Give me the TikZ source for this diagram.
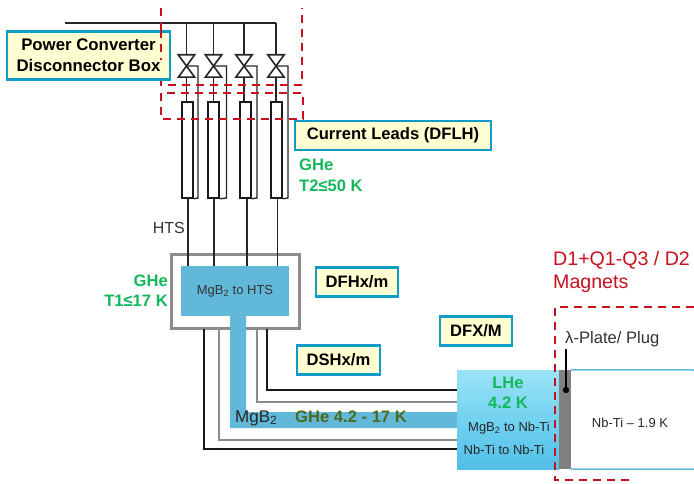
\documentclass[tikz,border=0pt]{standalone}
\usepackage{fontspec}
\setmainfont{Liberation Sans}
\definecolor{boxblue}{HTML}{0F9CC6}
\definecolor{boxfill}{HTML}{FFFFD2}
\definecolor{cablue}{HTML}{62B8D9}
\definecolor{redd}{HTML}{C8101E}
\definecolor{gre}{HTML}{12B85A}
\definecolor{olive2}{HTML}{4E6A1E}
\definecolor{gr}{HTML}{8C8C8C}
\definecolor{lhetop}{HTML}{9BE3F6}
\definecolor{lhemid}{HTML}{72D2F0}
\definecolor{lhebot}{HTML}{52BFE8}
\tikzset{
  lbl/.style={draw=boxblue,line width=2.6pt,fill=boxfill,inner sep=0pt,align=center,font=\fontsize{16.6}{20}\selectfont\bfseries},
  valve/.style={minimum width=16pt,minimum height=22pt,inner sep=0pt},
  tube/.style={draw=black!90,line width=1.6pt,fill=white,inner sep=0pt,minimum width=11pt,minimum height=96pt},
  wire/.style={draw=black!85,line width=1.4pt},
  wireb/.style={draw=black!85,line width=1.6pt},
  wirek/.style={draw=black!90,line width=1.7pt},
  wireg/.style={draw=gr,line width=2.8pt},
  reddash/.style={draw=redd,line width=2.2pt,dash pattern=on 8pt off 6pt},
  greent/.style={text=gre,font=\fontsize{16.6}{20}\selectfont\bfseries,inner sep=0pt,align=center},
  small/.style={inner sep=0pt,font=\fontsize{13}{15}\selectfont,text=black!85}
}
\begin{document}
\begin{tikzpicture}[x=1pt,y=-1pt]
\useasboundingbox (0,0) rectangle (694,484);
\coordinate (busL) at (65,23);
\coordinate (busR) at (276,23);
\node[draw=gr,line width=2.6pt,minimum width=128pt,minimum height=74pt,inner sep=0pt] (dfh) at (235.5,291.5) {};
\node[fill=cablue,minimum width=108pt,minimum height=50pt,inner sep=0pt,font=\fontsize{13}{15}\selectfont,text=black!80] (mgbhts) at (235,291) {MgB\textsubscript{2} to HTS};
\node[top color=lhetop,bottom color=lhebot,middle color=lhemid,minimum width=102pt,minimum height=99pt,inner sep=0pt] (lhe) at (508,419.5) {};
\coordinate (g1) at (204,329); \coordinate (g1e) at (lhe.west |- 0,449);
\coordinate (g2) at (219,329); \coordinate (g2e) at (lhe.west |- 0,440);
\coordinate (g3) at (257,329); \coordinate (g3e) at (lhe.west |- 0,402);
\coordinate (g4) at (267,329); \coordinate (g4e) at (lhe.west |- 0,390);
\draw[wirek] (g1) |- (g1e);
\draw[wireg] (g2) |- (g2e);
\draw[wireg] (g3) |- (g3e);
\draw[wirek] (g4) |- (g4e);
\fill[cablue] (230,316) -- (246,316) -- (246,412) -- (457,412) -- (457,428) -- (230,428) -- cycle;
\draw[wireb] (busL) -- (busR);
\foreach \n/\vx/\tx/\lx/\bx in {1/186.5/187.5/188/198,2/213.5/213.5/214/226.5,3/244/245.5/247/257,4/276/276.5/277.5/288}{
  \node[valve] (v\n) at (\vx,66) {};
  \node[tube] (t\n) at (\tx,150) {};
  \coordinate (b\n) at (\vx,23);
  \coordinate (e\n) at (\lx,266);
  \draw[wireb] (b\n) -- (v\n.north);
  \draw[wireb] (v\n.north west) -- (v\n.south east) -- (v\n.south west) -- (v\n.north east) -- cycle;
  \draw[wireb] (v\n.south) -- (v\n.south |- t\n.north);
  \draw[wire] (v\n.center) -| (\bx,198) -- (t\n.south east);
  \draw[wireb] (\lx,198) -- (e\n);
}
\node[fill=black!50,minimum width=12pt,minimum height=99pt,inner sep=0pt] (plate) at (565,419.5) {};
\coordinate (mt) at (694,370); \coordinate (mb) at (694,469);
\draw[cablue,line width=1.5pt] (plate.north east) -- (mt);
\draw[cablue,line width=1.5pt] (plate.south east) -- (mb);
\node[small] (nbt) at (630,423) {Nb-Ti – 1.9 K};
\draw[reddash] (161,8) -- (161,85) -- (302,85) -- (302,8);
\draw[reddash] (161,93) rectangle (303,119);
\draw[reddash] (694,307) -- (555,307) -- (555,480) -- (634,480);
\node[lbl,minimum width=163pt,minimum height=48pt,font=\fontsize{16.8}{21}\selectfont\bfseries] (pc) at (88.5,55.5) {Power Converter\\Disconnector Box};
\draw[reddash] (161,30) -- (161,60);
\node[lbl,minimum width=196pt,minimum height=29pt] (cl) at (393,135.5) {Current Leads (DFLH)};
\node[lbl,minimum width=82pt,minimum height=29pt] (dfhl) at (357,282) {DFHx/m};
\node[lbl,minimum width=83pt,minimum height=29pt] (dshl) at (338.5,360) {DSHx/m};
\node[lbl,minimum width=72pt,minimum height=29pt] (dfxl) at (476,331) {DFX/M};
\node[greent,anchor=west] (ghe2) at (299,165) {GHe};
\node[greent,anchor=west] (t2) at (299,186) {T2≤50 K};
\node[greent,anchor=east] (ghe1) at (168,281) {GHe};
\node[greent,anchor=east] (t1) at (168,301) {T1≤17 K};
\node[inner sep=0pt,font=\fontsize{16}{18}\selectfont,text=black!80,anchor=east] (hts) at (185,228) {HTS};
\node[inner sep=0pt,font=\fontsize{17}{19}\selectfont,text=black!85,anchor=west] (mgb) at (235,418) {MgB\textsubscript{2}};
\node[inner sep=0pt,font=\fontsize{16.6}{19}\selectfont\bfseries,text=olive2,anchor=west] (ghe3) at (295,417) {GHe 4.2 - 17 K};
\node[greent] (lhet) at (508,383) {LHe};
\node[greent] (k42) at (508,403) {4.2 K};
\node[small] (mn) at (509,428) {MgB\textsubscript{2} to Nb-Ti};
\node[small] (nn) at (504,450) {Nb-Ti to Nb-Ti};
\node[inner sep=0pt,font=\fontsize{19.6}{22}\selectfont,text=redd,anchor=west] (d1) at (553,260) {D1+Q1-Q3 / D2};
\node[inner sep=0pt,font=\fontsize{19.6}{22}\selectfont,text=redd,anchor=west] (magn) at (553,284) {Magnets};
\node[inner sep=0pt,font=\fontsize{16.6}{19}\selectfont,text=black!80,anchor=west] (lam) at (565,339) {λ-Plate/ Plug};
\coordinate (dot) at (566,390);
\draw[black,line width=1.7pt] (566,349) -- (dot);
\fill[black] (dot) circle (3.2pt);
\end{tikzpicture}
\end{document}
